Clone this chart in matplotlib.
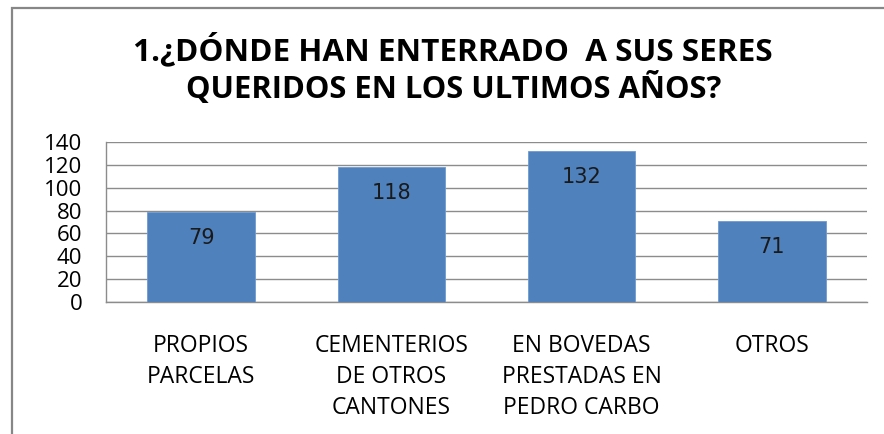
import matplotlib
matplotlib.use("Agg")
import matplotlib.pyplot as plt
from matplotlib.patches import Rectangle

categories = ["PROPIOS\nPARCELAS", "CEMENTERIOS\nDE OTROS\nCANTONES",
              "EN BOVEDAS\nPRESTADAS EN\nPEDRO CARBO", "OTROS"]
values = [79, 118, 132, 71]
yticks = [0, 20, 40, 60, 80, 100, 120, 140]
title_lines = ["1.¿DÓNDE HAN ENTERRADO  A SUS SERES", "QUERIDOS EN LOS ULTIMOS AÑOS?"]

W, H = 884, 434
fig = plt.figure(figsize=(W / 100, H / 100), dpi=100)
fig.patch.set_facecolor("white")

# outer chart frame
fig.patches.append(Rectangle((12 / W, -0.1), 2.0, 1.1 - 8 / H, transform=fig.transFigure,
                             fill=False, edgecolor="#878787", linewidth=1.6, zorder=0))

ax = fig.add_axes([106 / W, (H - 302.3) / H, 761 / W, 160.6 / H])
x = list(range(len(values)))
bars = ax.bar(x, values, width=0.565, color="#4F81BD", edgecolor="#6f9ad0",
              linewidth=0.6, zorder=3)
ax.set_xlim(-0.5, len(values) - 0.5)
ax.set_ylim(0, 140)
ax.set_yticks(yticks)
ax.set_yticklabels([str(t) for t in yticks], fontname="Open Sans", fontsize=16)
ax.set_xticks(x)
ax.set_xticklabels(categories, fontname="Open Sans", fontsize=16.5, linespacing=1.38)
ax.tick_params(axis="y", length=0, pad=17)
ax.tick_params(axis="x", length=0, pad=23)
ax.yaxis.grid(True, color="#8c8c8c", linewidth=1.0, zorder=0)
for s in ["top", "right"]:
    ax.spines[s].set_visible(False)
for s in ["left", "bottom"]:
    ax.spines[s].set_color("#8c8c8c")
    ax.spines[s].set_linewidth(1.0)

for rect, v in zip(bars, values):
    ax.annotate(str(v), (rect.get_x() + rect.get_width() / 2, v), xytext=(0, -19),
                textcoords="offset points", ha="center", va="center",
                fontname="DejaVu Sans", fontsize=15, color="#1a1a1a", zorder=4)

# title, font size fitted to the reference line widths
renderer = fig.canvas.get_renderer()
targets = [(453, 60, 639), (454, 98, 538)]
for line, (cx, base, wpx) in zip(title_lines, targets):
    t = fig.text(cx / W, 1 - base / H, line, ha="center", va="baseline",
                 fontname="Open Sans", fontweight="bold", fontsize=20)
    w = t.get_window_extent(renderer=renderer).width
    t.set_fontsize(20 * wpx / w)

fig.savefig("out.png", dpi=100)
